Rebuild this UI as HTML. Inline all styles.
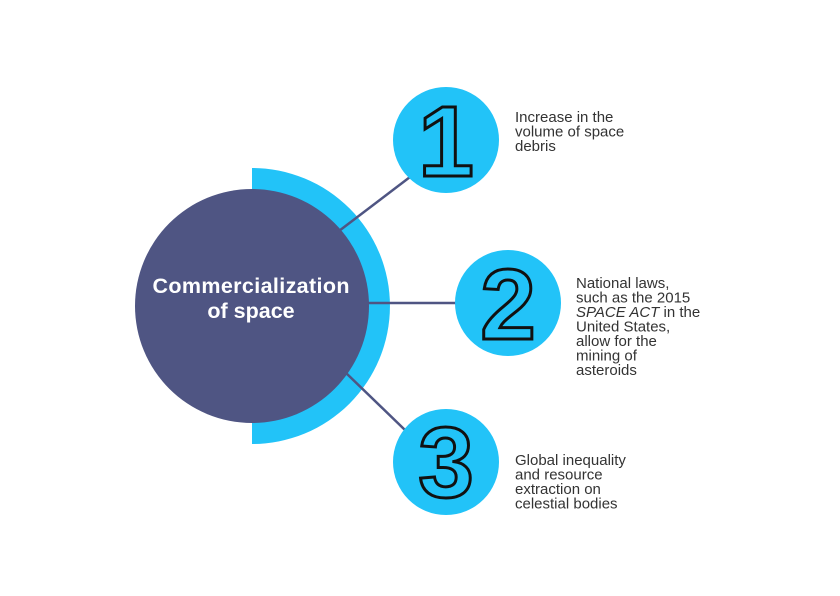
<!DOCTYPE html>
<html><head><style>body{margin:0;background:#fff}</style></head><body>
<svg width="840" height="596" viewBox="0 0 840 596" xmlns="http://www.w3.org/2000/svg" style="display:block">
<path d="M252 168 A138 138 0 0 1 252 444 Z" fill="#22c3f8"/>
<g stroke="#4f5583" stroke-width="2.5">
<line x1="335" y1="234" x2="410" y2="177"/>
<line x1="360" y1="303" x2="456" y2="303"/>
<line x1="345" y1="372" x2="405" y2="430"/>
</g>
<circle cx="252" cy="306" r="117" fill="#4f5583"/>
<text x="251" y="293" font-family="Liberation Sans, sans-serif" font-weight="bold" font-size="21.5" fill="#fff" text-anchor="middle" textLength="197">Commercialization</text>
<text x="251" y="318" font-family="Liberation Sans, sans-serif" font-weight="bold" font-size="21.5" fill="#fff" text-anchor="middle">of space</text>
<circle cx="446" cy="140" r="53" fill="#22c3f8"/>
<circle cx="508" cy="303" r="53" fill="#22c3f8"/>
<circle cx="446" cy="462" r="53" fill="#22c3f8"/>
<g font-family="Liberation Sans, sans-serif" font-weight="bold" font-size="100" fill="none" stroke="#111" stroke-width="3" text-anchor="middle">
<text x="446" y="176">1</text>
<text x="508" y="339">2</text>
<text x="446" y="497">3</text>
</g>
<g font-family="Liberation Sans, sans-serif" font-size="15" fill="#333">
<text x="515" y="122">Increase in the</text>
<text x="515" y="136.5">volume of space</text>
<text x="515" y="151">debris</text>
<text x="576" y="288">National laws,</text>
<text x="576" y="302.5">such as the 2015</text>
<text x="576" y="317"><tspan font-style="italic">SPACE ACT</tspan> in the</text>
<text x="576" y="331.5">United States,</text>
<text x="576" y="346">allow for the</text>
<text x="576" y="360.5">mining of</text>
<text x="576" y="375">asteroids</text>
<text x="515" y="465">Global inequality</text>
<text x="515" y="479.5">and resource</text>
<text x="515" y="494">extraction on</text>
<text x="515" y="508.5">celestial bodies</text>
</g>
</svg>
</body></html>
